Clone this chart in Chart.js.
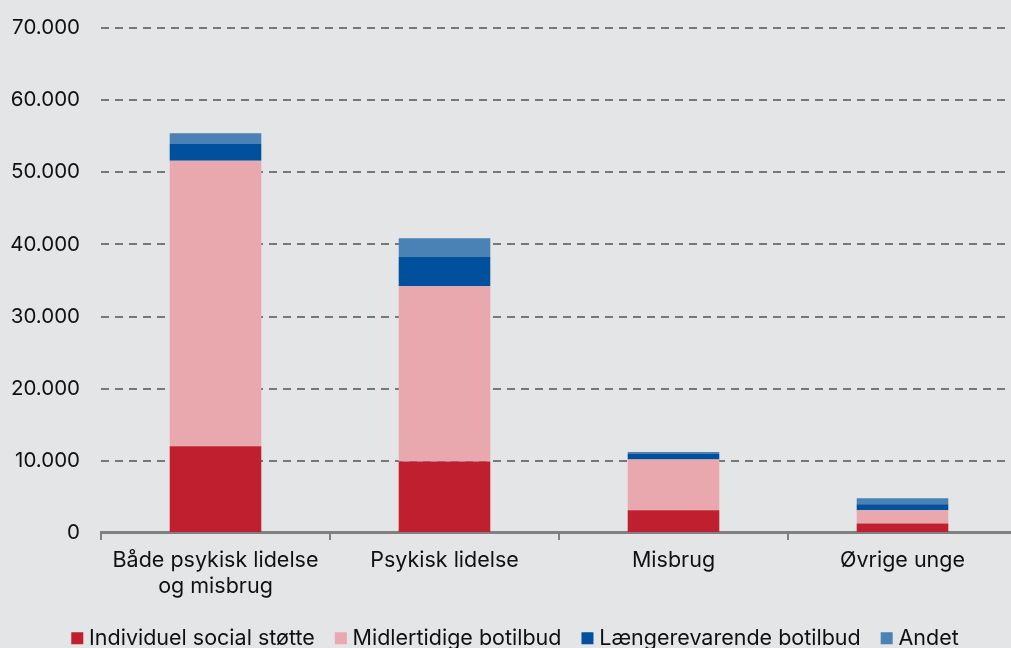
<!DOCTYPE html>
<html>
<head>
<meta charset="utf-8">
<script src="https://cdn.jsdelivr.net/npm/chart.js@4/dist/chart.umd.min.js"></script>
<style>
  html, body { margin: 0; padding: 0; background: #e4e5e7; overflow: hidden; }
  #wrap { width: 1017px; height: 664px; }
</style>
</head>
<body>
<div id="wrap"><canvas id="c"></canvas></div>
<script>
const categories = [['Både psykisk lidelse', 'og misbrug'], 'Psykisk lidelse', 'Misbrug', 'Øvrige unge'];
const individuel = [12000, 9900, 3150, 1300];
const midlertidige = [39600, 24300, 7030, 1850];
const laengerevarende = [2400, 4050, 750, 830];
const andet = [1400, 2600, 270, 820];

const FONT = 'Inter, "Noto Sans", sans-serif';

function fmtThousands(v) {
  return String(v).replace(/\B(?=(\d{3})+(?!\d))/g, '.');
}

function ds(label, data, color) {
  return {
    label,
    data,
    backgroundColor: color,
    borderWidth: 0,
    barPercentage: 0.4,
    categoryPercentage: 1,
  };
}

// nudge legend a bit, like the original
const legendShift = {
  id: 'legendShift',
  afterLayout(chart) {
    const l = chart.legend;
    l.left += 9;
    l.right += 9;
    l.top -= 5;
    l.bottom -= 5;
  },
};

new Chart(document.getElementById('c'), {
  type: 'bar',
  data: {
    labels: categories,
    datasets: [
      ds('Individuel social støtte', individuel, '#c01f30'),
      ds('Midlertidige botilbud', midlertidige, '#e8a8ae'),
      ds('Længerevarende botilbud', laengerevarende, '#00509e'),
      ds('Andet', andet, '#4a82b5'),
    ],
  },
  plugins: [legendShift],
  options: {
    responsive: true,
    maintainAspectRatio: false,
    animation: false,
    layout: { padding: { top: 28, bottom: 0, left: 0, right: 0 } },
    plugins: {
      legend: {
        position: 'bottom',
        labels: {
          font: { family: FONT, size: 21.5 },
          color: '#111',
          usePointStyle: true,
          pointStyle: 'rect',
          boxWidth: 2,
          boxHeight: 12,
          padding: 25,
        },
      },
      tooltip: { enabled: false },
    },
    scales: {
      x: {
        stacked: true,
        afterFit: (s) => { s.paddingLeft = 0; s.paddingRight = 0; },
        grid: {
          offset: true,
          drawOnChartArea: false,
          drawTicks: true,
          tickLength: 7,
          color: '#808080',
          lineWidth: 2,
        },
        border: { color: '#808080', width: 3 },
        ticks: {
          font: { family: FONT, size: 21.5 },
          color: '#111',
          padding: 8,
          maxRotation: 0,
        },
      },
      y: {
        stacked: true,
        min: 0,
        max: 70000,
        afterFit: (s) => { s.width = 101; s.paddingTop = 0; s.paddingBottom = 0; },
        grid: {
          color: '#777',
          lineWidth: 2,
          drawTicks: false,
        },
        border: { display: false, dash: [8, 6] },
        ticks: {
          stepSize: 10000,
          font: { family: FONT, size: 20.5 },
          color: '#111',
          padding: 21,
          callback: (v) => fmtThousands(v),
        },
      },
    },
  },
});
</script>
</body>
</html>
